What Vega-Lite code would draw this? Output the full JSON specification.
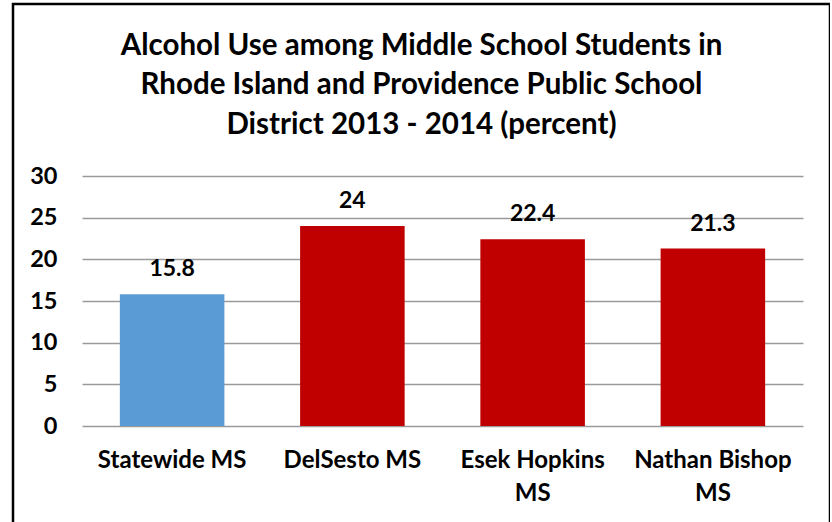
{
  "$schema": "https://vega.github.io/schema/vega-lite/v6.json",
  "autosize": {"type": "none"},
  "padding": {"left": 13, "top": 4, "right": 0, "bottom": 0},
  "width": 817,
  "height": 540,
  "background": "white",
  "config": {
    "font": "Lato",
    "view": {"stroke": "black", "strokeWidth": 2.5}
  },
  "title": {
    "text": ["Alcohol Use among Middle School Students in", "Rhode Island and Providence Public School", "District 2013 - 2014 (percent)"],
    "orient": "top",
    "anchor": "middle",
    "frame": "group",
    "baseline": "top",
    "offset": -136,
    "font": "Lato",
    "fontSize": 29.5,
    "fontWeight": "bold",
    "lineHeight": 39.5,
    "color": "black"
  },
  "data": {
    "values": [
      {"school": "Statewide MS", "group": "Statewide", "value": 15.8},
      {"school": "DelSesto MS", "group": "Providence", "value": 24},
      {"school": "Esek Hopkins MS", "group": "Providence", "value": 22.4},
      {"school": "Nathan Bishop MS", "group": "Providence", "value": 21.3}
    ]
  },
  "encoding": {
    "x": {
      "field": "school",
      "type": "nominal",
      "sort": null,
      "scale": {"range": [69, 790], "paddingInner": 0.42, "paddingOuter": 0.21},
      "axis": {
        "title": null,
        "orient": "bottom",
        "offset": -118,
        "domain": false,
        "ticks": false,
        "labelAngle": 0,
        "labelPadding": 22,
        "labelBaseline": "top",
        "labelFont": "Lato",
        "labelFontSize": 24,
        "labelFontWeight": "bold",
        "labelColor": "black",
        "labelLineHeight": 33,
        "labelLimit": 300,
        "labelExpr": "datum.label == 'Esek Hopkins MS' ? ['Esek Hopkins', 'MS'] : datum.label == 'Nathan Bishop MS' ? ['Nathan Bishop', 'MS'] : datum.label"
      }
    },
    "y": {
      "field": "value",
      "type": "quantitative",
      "scale": {"domain": [0, 30], "range": [422, 172], "nice": false, "zero": true},
      "axis": {
        "title": null,
        "offset": -44,
        "values": [0, 5, 10, 15, 20, 25, 30],
        "domain": false,
        "ticks": false,
        "labelPadding": 0,
        "labelFont": "Lato",
        "labelFontSize": 23.5,
        "labelFontWeight": "bold",
        "labelColor": "black",
        "grid": true,
        "gridColor": "#9a9a9a",
        "gridWidth": 1.5
      }
    }
  },
  "layer": [
    {
      "mark": {"type": "bar"},
      "encoding": {
        "color": {
          "field": "group",
          "type": "nominal",
          "scale": {"domain": ["Statewide", "Providence"], "range": ["#5B9BD5", "#C00000"]},
          "legend": null
        }
      }
    },
    {
      "mark": {"type": "text", "dy": -18, "baseline": "alphabetic", "font": "Lato", "fontSize": 23, "fontWeight": "bold", "color": "black"},
      "encoding": {
        "text": {"field": "value", "type": "quantitative", "format": ".1~f"}
      }
    }
  ]
}
